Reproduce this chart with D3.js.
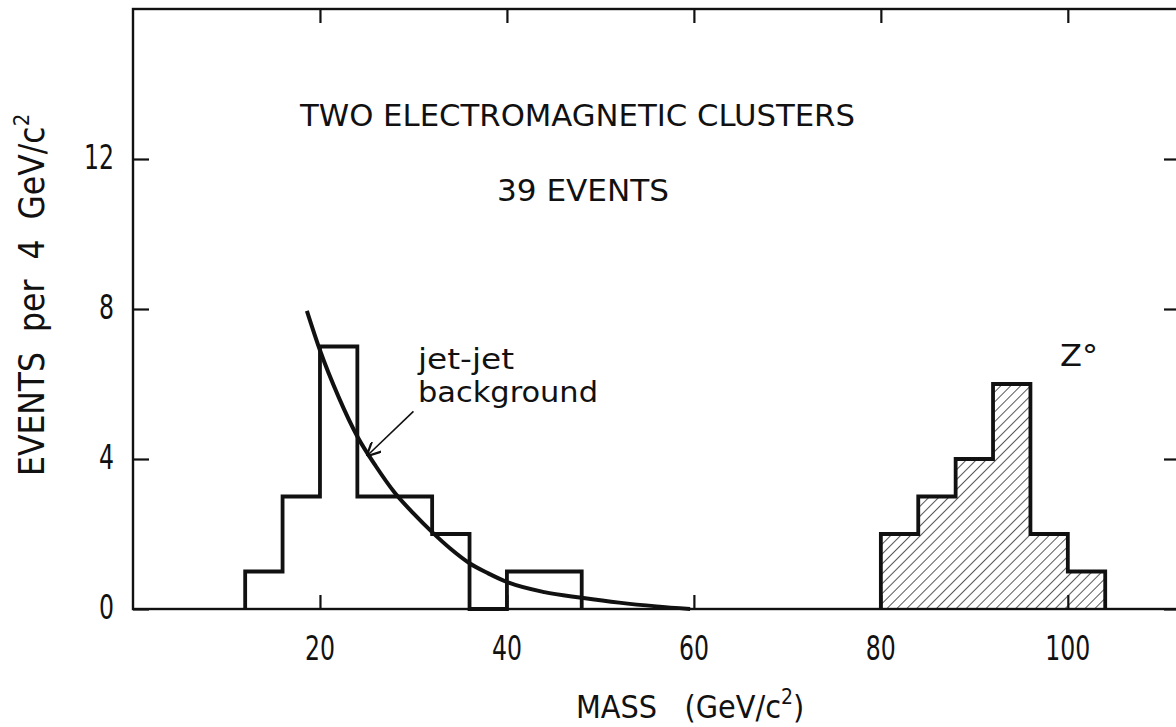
<!DOCTYPE html>
<html>
<head>
<meta charset="utf-8">
<script src="https://cdn.jsdelivr.net/npm/d3@7"></script>
<style>
  body { margin: 0; background: #fff; }
  text { font-family: "Liberation Sans Narrow", "DejaVu Sans Condensed", "DejaVu Sans", sans-serif; fill: #111; }
</style>
</head>
<body>
<div id="chart"></div>
<script>
// histogram data, 4 GeV bins
const binWidth = 4;
const bgStart = 12;
const bgCounts = [1, 3, 7, 3, 3, 2, 0, 1, 1];
const zStart = 80;
const zCounts = [2, 3, 4, 6, 2, 1];

// jet-jet background curve
const curveMass = [18.6, 20, 22, 24, 26, 28, 30, 32, 34, 36, 38, 40, 44, 48, 52, 56, 59.6];
const curveVal  = [7.95, 6.9, 5.65, 4.6, 3.8, 3.1, 2.55, 2.05, 1.6, 1.22, 0.95, 0.72, 0.45, 0.3, 0.17, 0.07, 0.0];

const xTicks = [20, 40, 60, 80, 100];
const yTicks = [0, 4, 8, 12];

var width = 1176, height = 727;

var x = d3.scaleLinear().domain([0, 112]).range([133, 1180]);
var y = d3.scaleLinear().domain([0, 16]).range([609, 9]);

var svg = d3.select("#chart").append("svg")
  .attr("width", width)
  .attr("height", height);

// hatch pattern for the Z peak
var defs = svg.append("defs");
defs.append("pattern")
  .attr("id", "hatch")
  .attr("patternUnits", "userSpaceOnUse")
  .attr("width", 7)
  .attr("height", 7)
  .attr("patternTransform", "rotate(45)")
  .append("line")
  .attr("x1", 0).attr("y1", 0)
  .attr("x2", 0).attr("y2", 7)
  .attr("stroke", "#111")
  .attr("stroke-width", 1.4);

// frame
svg.append("rect")
  .attr("x", x(0)).attr("y", y(16))
  .attr("width", x(112) - x(0))
  .attr("height", y(0) - y(16))
  .attr("fill", "none")
  .attr("stroke", "#111")
  .attr("stroke-width", 2.4);

// axes with inward ticks
svg.append("g")
  .attr("transform", "translate(0," + y(0) + ")")
  .call(d3.axisBottom(x).tickValues(xTicks).tickSize(-14).tickFormat(""))
  .call(g => g.select(".domain").remove());
svg.append("g")
  .attr("transform", "translate(0," + y(16) + ")")
  .call(d3.axisTop(x).tickValues(xTicks).tickSize(-14).tickFormat(""))
  .call(g => g.select(".domain").remove());
svg.append("g")
  .attr("transform", "translate(" + x(0) + ",0)")
  .call(d3.axisLeft(y).tickValues(yTicks).tickSize(-16).tickFormat(""))
  .call(g => g.select(".domain").remove());
svg.append("g")
  .attr("transform", "translate(" + x(112) + ",0)")
  .call(d3.axisRight(y).tickValues(yTicks).tickSize(-16).tickFormat(""))
  .call(g => g.select(".domain").remove());
svg.selectAll(".tick line").attr("stroke", "#111").attr("stroke-width", 2.2);

// tick labels, narrow lettering
svg.selectAll(".xlab")
  .data(xTicks)
  .enter()
  .append("text")
  .attr("x", d => x(d) - String(d).length * 7.5)
  .attr("y", 660)
  .attr("font-size", 34)
  .attr("textLength", d => String(d).length * 15)
  .attr("lengthAdjust", "spacingAndGlyphs")
  .text(d => d);

svg.selectAll(".ylab")
  .data(yTicks)
  .enter()
  .append("text")
  .attr("x", d => 114 - String(d).length * 15)
  .attr("y", d => y(d) + 10)
  .attr("font-size", 34)
  .attr("textLength", d => String(d).length * 15)
  .attr("lengthAdjust", "spacingAndGlyphs")
  .text(d => d);

// step outline points
function stepPoints(start, counts) {
  var pts = [[start, 0]];
  counts.forEach(function(c, i) { pts.push([start + i * binWidth, c]); });
  var end = start + counts.length * binWidth;
  pts.push([end, counts[counts.length - 1]]);
  pts.push([end, 0]);
  return pts;
}

var stepLine = d3.line()
  .x(d => x(d[0]))
  .y(d => y(d[1]))
  .curve(d3.curveStepAfter);

var stepArea = d3.area()
  .x(d => x(d[0]))
  .y0(y(0))
  .y1(d => y(d[1]))
  .curve(d3.curveStepAfter);

var bgPts = stepPoints(bgStart, bgCounts);
var zPts = stepPoints(zStart, zCounts);

svg.append("path")
  .attr("d", stepArea(zPts))
  .attr("fill", "url(#hatch)");

svg.append("path")
  .attr("d", stepLine(bgPts))
  .attr("fill", "none")
  .attr("stroke", "#111")
  .attr("stroke-width", 3.8);

svg.append("path")
  .attr("d", stepLine(zPts))
  .attr("fill", "none")
  .attr("stroke", "#111")
  .attr("stroke-width", 3.8);

// background curve
var curvePts = curveMass.map((m, i) => [m, curveVal[i]]);
svg.append("path")
  .attr("d", d3.line().x(d => x(d[0])).y(d => y(d[1])).curve(d3.curveMonotoneX)(curvePts))
  .attr("fill", "none")
  .attr("stroke", "#111")
  .attr("stroke-width", 4);

// arrow to the curve
defs.append("marker")
  .attr("id", "arrow")
  .attr("viewBox", "0 0 10 10")
  .attr("refX", 9).attr("refY", 5)
  .attr("markerWidth", 14).attr("markerHeight", 14)
  .attr("markerUnits", "userSpaceOnUse")
  .attr("orient", "auto")
  .append("path")
  .attr("d", "M0,0 L10,5 L0,10")
  .attr("fill", "none")
  .attr("stroke", "#111")
  .attr("stroke-width", 1.6);

svg.append("line")
  .attr("x1", x(30.0)).attr("y1", y(5.27))
  .attr("x2", x(25.1)).attr("y2", y(4.1))
  .attr("stroke", "#111")
  .attr("stroke-width", 1.6)
  .attr("marker-end", "url(#arrow)");

// annotations
function label(tx, ty, size, len, str) {
  return svg.append("text").attr("x", tx).attr("y", ty)
    .attr("font-size", size).attr("textLength", len).attr("lengthAdjust", "spacingAndGlyphs")
    .text(str);
}
label(300, 126, 30, 555, "TWO ELECTROMAGNETIC CLUSTERS");
label(497, 201, 30, 172, "39 EVENTS");
label(418, 369, 29, 96, "jet-jet");
label(418, 402, 29, 180, "background");
label(1060, 366, 30, 38, "Z°");

// axis titles
var xt = svg.append("text").attr("x", 576).attr("y", 718).attr("font-size", 32);
xt.append("tspan").text("MASS\u00a0\u00a0\u00a0(GeV/c");
xt.append("tspan").attr("font-size", 21).attr("dy", -14).text("2");
xt.append("tspan").attr("dy", 14).text(")");

var yt = svg.append("text")
  .attr("transform", "translate(44,476) rotate(-90)")
  .attr("font-size", 35);
yt.append("tspan").text("EVENTS\u00a0\u00a0per\u00a0\u00a04\u00a0\u00a0GeV/c");
yt.append("tspan").attr("font-size", 22).attr("dy", -15).text("2");
</script>
</body>
</html>
